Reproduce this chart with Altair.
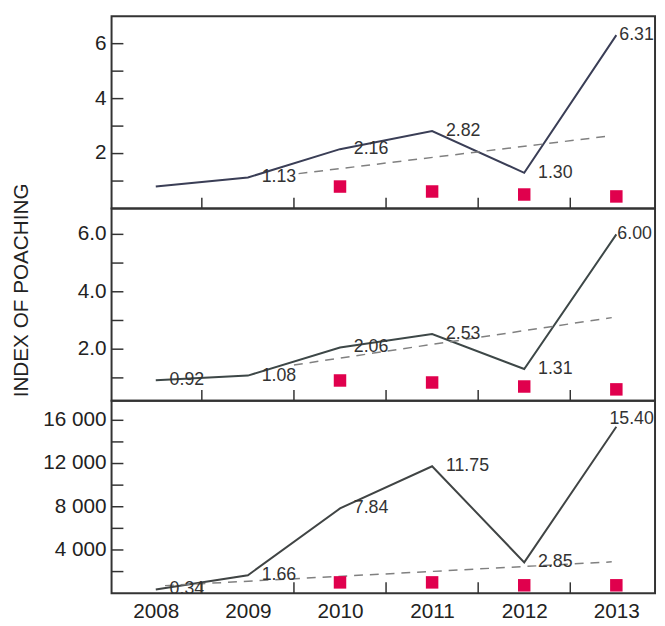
import altair as alt
import pandas as pd

# ---------------- data ----------------
years = [2008, 2009, 2010, 2011, 2012, 2013]

p1_values = [0.80, 1.13, 2.16, 2.82, 1.30, 6.31]
p1_labels = ["", "1.13", "2.16", "2.82", "1.30", "6.31"]

p2_values = [0.92, 1.08, 2.06, 2.53, 1.31, 6.00]
p2_labels = ["0.92", "1.08", "2.06", "2.53", "1.31", "6.00"]

p3_values = [340, 1660, 7840, 11750, 2850, 15400]
p3_labels = ["0.34", "1.66", "7.84", "11.75", "2.85", "15.40"]

# dashed trend lines (start / end)
p1_trend_x = [2009.55, 2012.95]
p1_trend_y = [1.27, 2.65]
p2_trend_x = [2009.50, 2012.95]
p2_trend_y = [1.45, 3.10]
p3_trend_x = [2008.10, 2012.95]
p3_trend_y = [700, 2900]

# red squares
square_years = [2010, 2011, 2012, 2013]
p1_squares = [0.80, 0.62, 0.51, 0.44]
p2_squares = [0.91, 0.84, 0.70, 0.60]
p3_squares = [1000, 1000, 730, 730]

# axes
x_domain = [2007.52, 2013.42]
x_tick_values = [2008.5, 2009.5, 2010.5, 2011.5, 2012.5]
p1_domain = [0, 7]
p1_ticks = [1, 2, 3, 4, 5, 6]
p1_tick_label_values = [2, 4, 6]
p1_tick_label_text = ["2", "4", "6"]
p2_domain = [0.2, 6.9]
p2_ticks = [1, 2, 3, 4, 5, 6]
p2_tick_label_values = [2, 4, 6]
p2_tick_label_text = ["2.0", "4.0", "6.0"]
p3_domain = [0, 17800]
p3_ticks = [2000, 4000, 6000, 8000, 10000, 12000, 14000, 16000]
p3_tick_label_values = [4000, 8000, 12000, 16000]
p3_tick_label_text = ["4 000", "8 000", "12 000", "16 000"]

# ---------------- layout / style ----------------
W = 551
H = 195
FONT = "Liberation Sans"
TREND_COLOR = "#808080"
SQUARE_COLOR = "#e0004d"
AXIS_COLOR = "#333333"


def panel(values, labels, tx, ty, sq, ydomain, yticks, ylab_vals, ylab_text,
          ytitle, show_x_labels, last_dx, last_dy, line_color):
    df = pd.DataFrame({"year": years, "value": values, "label": labels})
    tdf = pd.DataFrame({"year": tx, "value": ty})
    sdf = pd.DataFrame({"year": square_years, "value": sq})
    ytick_df = pd.DataFrame({"value": yticks})
    ylab_df = pd.DataFrame({"value": ylab_vals, "text": ylab_text})
    xtick_df = pd.DataFrame({"year": x_tick_values})

    x_scale = alt.Scale(domain=x_domain, nice=False, zero=False)
    if show_x_labels:
        x_enc = alt.X("year:Q", title=None, scale=x_scale, axis=alt.Axis(
            values=years, format="d", ticks=False, tickSize=0, domain=False,
            grid=False, labelFlush=False, labelPadding=8, labelFontSize=21,
            labelColor="#222", labelFont=FONT))
    else:
        x_enc = alt.X("year:Q", title=None, scale=x_scale, axis=None)

    y_scale = alt.Scale(domain=ydomain, nice=False, zero=False)
    if ytitle:
        y_enc = alt.Y("value:Q", title=ytitle, scale=y_scale, axis=alt.Axis(
            labels=False, ticks=False, tickSize=0, domain=False, grid=False,
            minExtent=0, titleFontSize=21, titleFont=FONT,
            titleFontWeight="normal", titleColor="#222", titlePadding=81,
            titleY=H / 2 - 15))
    else:
        y_enc = alt.Y("value:Q", title=None, scale=y_scale, axis=None)

    base = alt.Chart(df)
    line = base.mark_line(color=line_color, strokeWidth=2).encode(x=x_enc, y=y_enc)
    trend = alt.Chart(tdf).mark_line(
        color=TREND_COLOR, strokeWidth=1.5, strokeDash=[9, 7]
    ).encode(x="year:Q", y="value:Q")
    squares = alt.Chart(sdf).mark_square(
        size=160, color=SQUARE_COLOR, opacity=1
    ).encode(x="year:Q", y="value:Q")
    text_main = base.transform_filter("datum.year < 2013").mark_text(
        align="left", baseline="middle", dx=14, fontSize=18, font=FONT, color="#333"
    ).encode(x="year:Q", y="value:Q", text="label:N")
    text_last = base.transform_filter("datum.year == 2013").mark_text(
        align="left", baseline="middle", dx=last_dx, dy=last_dy, fontSize=18,
        font=FONT, color="#333"
    ).encode(x="year:Q", y="value:Q", text="label:N")
    # inward tick marks and tick labels
    yticks_mark = alt.Chart(ytick_df).mark_rule(
        color=AXIS_COLOR, strokeWidth=1.5
    ).encode(y="value:Q", x=alt.value(0), x2=alt.value(12))
    ylabels_mark = alt.Chart(ylab_df).mark_text(
        align="right", baseline="middle", fontSize=21, font=FONT, color="#222"
    ).encode(y="value:Q", x=alt.value(-5), text="text:N")
    xticks_mark = alt.Chart(xtick_df).mark_rule(
        color=AXIS_COLOR, strokeWidth=1.5
    ).encode(x="year:Q", y=alt.value(H - 11), y2=alt.value(H))

    return alt.layer(line, trend, squares, text_main, text_last,
                     yticks_mark, ylabels_mark, xticks_mark).properties(
        width=W, height=H)


c1 = panel(p1_values, p1_labels, p1_trend_x, p1_trend_y, p1_squares,
           p1_domain, p1_ticks, p1_tick_label_values, p1_tick_label_text,
           "", False, 3, 0, "#3a3e56")
c2 = panel(p2_values, p2_labels, p2_trend_x, p2_trend_y, p2_squares,
           p2_domain, p2_ticks, p2_tick_label_values, p2_tick_label_text,
           "INDEX OF POACHING", False, 1, 0, "#3d4747")
c3 = panel(p3_values, p3_labels, p3_trend_x, p3_trend_y, p3_squares,
           p3_domain, p3_ticks, p3_tick_label_values, p3_tick_label_text,
           "", True, -7, -8, "#404444")

chart = alt.vconcat(c1, c2, c3, spacing=0, bounds="flush").properties(
    padding={"left": 2, "top": 3, "right": 1, "bottom": 2}
).configure(
    font=FONT, background="white",
    view=alt.ViewConfig(stroke=AXIS_COLOR, strokeWidth=2),
)

chart.save("out.html", embed_options={"renderer": "svg", "actions": False})
